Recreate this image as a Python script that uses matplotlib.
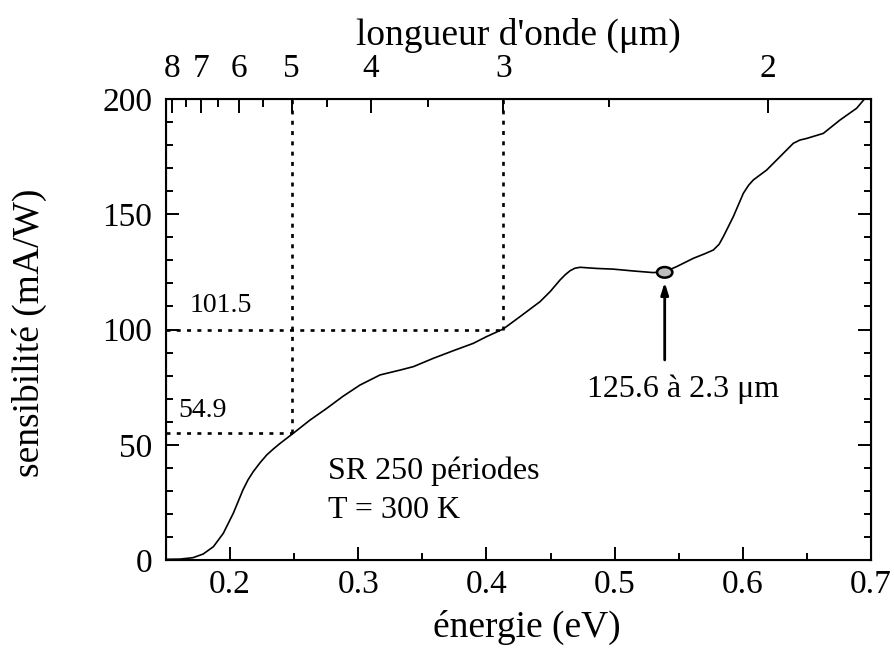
import matplotlib.pyplot as plt
from matplotlib.patches import Ellipse
import numpy as np

plt.rcParams['font.family'] = ['Liberation Serif', 'DejaVu Serif']

# courbe de sensibilite
energie = [0.150, 0.161, 0.171, 0.179, 0.187, 0.1947, 0.2025, 0.210, 0.214, 0.218,
           0.2235, 0.2286, 0.234, 0.239, 0.2493, 0.2623, 0.2754, 0.288, 0.3013, 0.317,
           0.3326, 0.343, 0.3585, 0.3741, 0.3897, 0.400, 0.413, 0.4262, 0.4418, 0.4496,
           0.4574, 0.4615, 0.4652, 0.469, 0.473, 0.486, 0.499, 0.5146, 0.530, 0.5393,
           0.5484, 0.5614, 0.570, 0.577, 0.5815, 0.5848, 0.5926, 0.6004, 0.6045, 0.6082,
           0.6186, 0.629, 0.6394, 0.6445, 0.6498, 0.6628, 0.6758, 0.6888, 0.6953, 0.700]
sensibilite = [0.3, 0.4, 1.0, 2.6, 5.8, 11.6, 20.3, 30.4, 34.8, 38.3,
               42.3, 45.6, 48.3, 50.6, 55.0, 60.7, 65.8, 71.0, 75.9, 80.3,
               82.4, 83.9, 87.5, 90.8, 94.0, 96.9, 100.2, 105.6, 112.1, 116.4,
               121.5, 123.8, 125.5, 126.6, 127.0, 126.5, 126.2, 125.4, 124.7, 125.1,
               127.3, 130.9, 132.8, 134.5, 137.0, 140.3, 149.0, 159.1, 162.6, 164.9,
               169.2, 175.0, 180.8, 182.2, 182.9, 185.1, 190.9, 196.0, 200.3, 204.0]

lambdas = [8, 7, 6, 5, 4, 3, 2]
lambdas_min = [7.5, 6.5, 5.5, 4.5, 3.5, 2.5]
hc = 1.2398  # eV.um

pic_lambda = 2.3
pic_val = 125.6
lignes_lambda = [5, 3]
lignes_val = [55, 100]
lignes_txt = ['54.9', '101.5']

fig = plt.figure(figsize=(8.95, 6.52), dpi=100)
ax = fig.add_axes([0.1855, 0.1411, 0.7877, 0.7070])

ax.plot(energie, sensibilite, color='black', lw=1.2, solid_joinstyle='round')

# lignes pointillees
for lam, val in zip(lignes_lambda, lignes_val):
    e = hc / lam
    ax.plot([e, e], [val, 200], color='black', lw=1.9, ls=(0, (1.5, 2.4)))
    ax.plot([0.15, e], [val, val], color='black', lw=1.9, ls=(0, (1.5, 2.4)))

ax.text(0.1682, 107.5, lignes_txt[1], fontsize=20, ha='left', va='baseline')
ax.text(0.1594, 62.2, lignes_txt[0], fontsize=20, ha='left', va='baseline')

# point a 2.3 um
e_pic = hc / pic_lambda
ax.add_patch(Ellipse((e_pic, 124.8), 0.012, 4.6, facecolor='#bdbdbd',
                     edgecolor='black', lw=1.8, zorder=5))
ax.annotate('', xy=(e_pic, 120.5), xytext=(e_pic, 86.8),
            arrowprops=dict(arrowstyle='-|>,head_length=0.7,head_width=0.22',
                            color='black', lw=2.0, shrinkA=0, shrinkB=0))
ax.text(0.4783, 70.8, '125.6 à 2.3 μm', fontsize=23, ha='left', va='baseline')

ax.text(0.2764, 35.0, 'SR 250 périodes', fontsize=23, ha='left', va='baseline')
ax.text(0.2764, 18.1, 'T = 300 K', fontsize=23, ha='left', va='baseline')

ax.set_xlim(0.15, 0.7)
ax.set_ylim(0, 200)
ax.set_xticks([0.2, 0.3, 0.4, 0.5, 0.6, 0.7])
ax.set_xticklabels(['0.2', '0.3', '0.4', '0.5', '0.6', '0.7'])
ax.set_xticks(np.arange(0.15, 0.70, 0.1), minor=True)
ax.set_yticks([0, 50, 100, 150, 200])
ax.set_yticks(np.arange(10, 200, 10), minor=True)
ax.tick_params(which='both', direction='in', labelsize=24, right=True, top=False,
               width=1.4)
ax.tick_params(which='major', length=9.6)
ax.tick_params(which='minor', length=5.3)
ax.tick_params(axis='x', pad=7)
ax.tick_params(axis='y', pad=10)
for s in ax.spines.values():
    s.set_linewidth(1.5)

ax.set_xlabel('énergie (eV)', fontsize=27)
ax.xaxis.set_label_coords(0.512, -0.108)
ax.set_ylabel('sensibilité (mA/W)', fontsize=27)
ax.yaxis.set_label_coords(-0.169, 0.492)

# axe du haut en longueur d'onde
ax2 = ax.twiny()
ax2.set_xlim(ax.get_xlim())
ax2.set_xticks([hc / l for l in lambdas])
ax2.set_xticklabels([str(l) for l in lambdas])
ax2.set_xticks([hc / l for l in lambdas_min], minor=True)
ax2.tick_params(which='both', direction='in', labelsize=24, width=1.4, pad=11)
ax2.tick_params(which='major', length=10)
ax2.tick_params(which='minor', length=5.5)
ax2.set_xlabel("longueur d'onde (μm)", fontsize=27, labelpad=6)

fig.savefig('out.png', dpi=100)
